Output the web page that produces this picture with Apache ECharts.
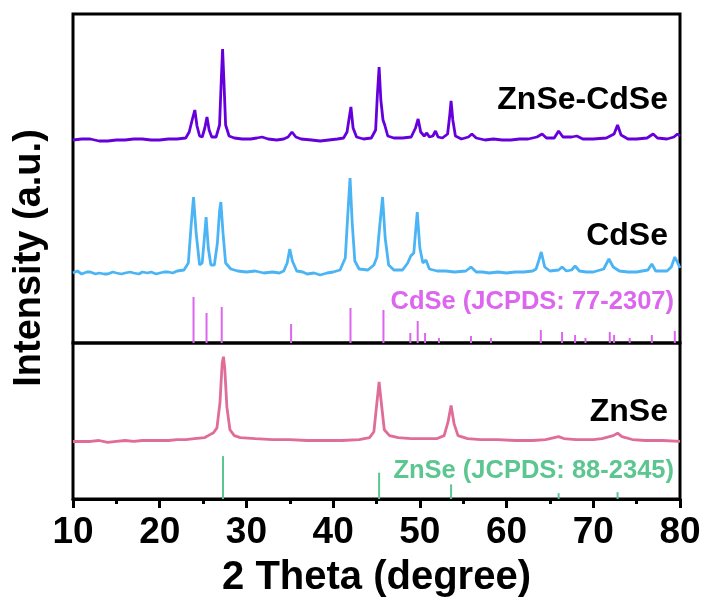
<!DOCTYPE html>
<html>
<head>
<meta charset="utf-8">
<script src="https://cdn.jsdelivr.net/npm/echarts@6/dist/echarts.min.js"></script>
<style>
  html, body { margin: 0; padding: 0; background: #fff; }
  #chart { width: 707px; height: 599px; }
</style>
</head>
<body>
<div id="chart"></div>
<script>
// ---------- DATA (2θ in degrees, intensity in arbitrary units) ----------
const xTickLabels = [10, 20, 30, 40, 50, 60, 70, 80];

// ZnSe-CdSe pattern (intensity above its own baseline)
const hybridPattern = [
  [10,0],[11,1],[12,1],[13,-1],[14,-1],[15,0],[16,0],[17,1],[18,1],[19,0],[20,0],[21,1],[22,1],[23.0,2],[23.4,8],[23.6,15],[23.8,22],[24.05,30],[24.3,14],[24.6,4],
  [24.9,3],[25.2,12],[25.45,23],[25.7,10],[26.0,3],[26.5,3],[26.9,15],[27.1,60],[27.25,91],[27.4,60],[27.6,15],[28.0,4],[28.6,2],
  [29.5,1],[30.5,1],[31.2,2],[31.8,3],[32.5,1],[33.5,0],[34.3,1],[34.8,3],[35.25,8],[35.7,3],[36.3,1],[37.5,0],[38.5,-1],[39.5,0],[40.5,1],[41.2,2],[41.6,8],[41.85,22],[42.05,33],[42.3,12],[42.7,3],[43.5,1],
  [44.4,2],[44.9,10],[45.1,45],[45.3,73],[45.5,40],[45.75,20],[45.95,15],[46.3,4],[47,2],[48,2],[49.0,3],[49.5,12],[49.8,21],[50.1,8],[50.5,4],
  [50.8,7],[51.1,3],[51.5,4],[51.8,9],[52.1,3],[52.6,2],[53.2,6],[53.45,25],[53.6,39],[53.8,20],[54.1,4],[54.8,1],[55.6,3],[56.0,6],[56.5,2],
  [57.5,0],[58.5,1],[59.5,0],[60.5,0],[61.5,1],[62.5,1],[63.5,3],[64.1,6],[64.6,2],[65.5,2],[66.0,9],[66.5,3],[67.5,3],[68.1,4],[68.8,1],[70,1],[71.5,2],
  [72.4,6],[72.8,15],[73.2,5],[74,1],[75,1],[76.2,2],[76.9,6],[77.4,2],[78.5,1],[79.3,3],[79.7,6],[80,4]
];

// CdSe pattern
const cdsePattern = [
  [10,0],[10.5,2],[11,-1],[11.6,1],[12,1],[12.6,-1],[13,0],[13.6,-1],[14,-1],[14.6,1],[15,0],[15.6,-1],[16,0],[16.6,1],[17,0],[17.6,-1],[18,1],[18.6,0],[19,1],[19.6,-1],[20,0],[20.5,1],[21,1],[21.5,0],[22,2],[22.8,3],
  [23.3,10],[23.6,45],[23.9,76],[24.2,40],[24.6,8],[24.9,10],[25.15,35],[25.35,56],[25.6,25],[25.9,8],[26.3,8],[26.65,30],[26.9,62],[27.05,71],[27.3,40],[27.6,10],[28.2,4],
  [29,2],[30,1],[31,2],[32,0],[33,1],[33.8,0],[34.3,2],[34.7,10],[35.0,24],[35.3,12],[35.8,2],[36.5,1],[37,-1],[37.8,0],[38.5,-2],[39.3,0],[40,1],[40.8,3],
  [41.4,15],[41.7,60],[41.95,95],[42.2,50],[42.5,12],[43,4],[44,3],[44.7,8],[45.05,16],[45.35,45],[45.7,76],[46.0,35],[46.4,8],[47,3],[48,3],
  [48.6,10],[48.95,17],[49.3,20],[49.7,61],[50.0,25],[50.35,10],[50.7,13],[51.1,4],[52,2],[53,2],[54,1],[55.3,2],[55.9,6],[56.5,1],
  [57.2,1],[58,0],[59,1],[60,0],[61,1],[62,1],[63.0,2],[63.4,4],[63.7,12],[64.0,21],[64.4,6],[65,2],[66.0,3],[66.4,6],[66.9,2],[67.5,3],[67.9,7],[68.4,2],
  [69.2,1],[70,1],[71.2,4],[71.8,14],[72.3,6],[73,2],[74,1],[75,1],[76.3,3],[76.75,9],[77.2,2],[78.5,2],[79.0,6],[79.4,16],[79.8,9],[80,5]
];

// ZnSe pattern
const znsePattern = [
  [10,0],[11,0],[12,0],[13,1],[14,-1],[15,0],[16,1],[17,0],[18,1],[19,1],[20,1],[21,1],[22,2],[23,2],[24,3],[25.2,4],[25.8,7],[26.2,9],[26.6,14],
  [26.95,40],[27.2,80],[27.35,87],[27.5,75],[27.75,35],[28.1,12],[28.6,6],[29.3,4],[31,3],[33,2],[35,2],[37,1],[39,1],[41,1],[43,2],
  [44.2,4],[44.7,10],[45.05,40],[45.3,61],[45.55,40],[45.9,12],[46.5,6],[47.5,4],[49,3],[50.5,3],[52,3],[52.8,6],[53.25,20],[53.6,37],[53.95,18],[54.4,6],
  [55.5,3],[57,2],[59,2],[61,1],[63,1],[64.5,2],[65.5,4],[66.0,5],[66.6,3],[68,2],[70,2],[71,3],[72.3,6],[72.8,8.5],[73.3,5],[74.5,2],[76,1],[78,1],[80,0]
];

// Vertical stacking offsets of the measured patterns (a.u.)
const hybridOffset = 203;
const cdseOffset = 70;
const znseOffset = 59;

// Reference stick patterns
const cdseRefPos = [23.9, 25.4, 27.15, 35.15, 42.0, 45.8, 48.9, 49.75, 50.6, 52.2, 55.9, 58.2, 63.95, 66.4, 67.9, 69.1, 71.9, 72.4, 74.2, 76.75, 79.4];
const cdseRefInt = [46, 30, 36, 19, 35, 33, 10, 22, 10, 5, 7, 5, 13, 11, 8, 5, 11, 8, 5, 8, 12];
const znseRefPos = [27.3, 45.3, 53.6, 66.0, 72.8];
const znseRefInt = [44, 27, 15, 6, 7];

const sampleNames = ['ZnSe-CdSe', 'CdSe', 'ZnSe'];
const refNames = ['CdSe (JCPDS: 77-2307)', 'ZnSe (JCPDS: 88-2345)'];

// ---------- STYLES ----------
const C_HYBRID = '#6500dc';
const C_CDSE = '#4ab4f4';
const C_ZNSE = '#e06c98';
const C_CDSE_REF = '#dc66ee';
const C_ZNSE_REF = '#5cc690';
const SANS = '"Liberation Sans", Arial, sans-serif';

const shift = (arr, off) => arr.map(p => [p[0], p[1] + off]);
const sticks = (pos, inten) => pos.map((x, i) => [x, inten[i]]);

function stickRenderer(color) {
  return function (params, api) {
    const x = api.value(0), h = api.value(1);
    const p0 = api.coord([x, 0]);
    const p1 = api.coord([x, h]);
    return {
      type: 'line',
      shape: { x1: p0[0], y1: p0[1], x2: p1[0], y2: p1[1] },
      style: { stroke: color, lineWidth: 2 }
    };
  };
}

const chart = echarts.init(document.getElementById('chart'), null, { renderer: 'canvas' });

const option = {
  animation: false,
  backgroundColor: '#fff',
  grid: [
    { left: 73, right: 27, top: 14, height: 329, show: true, borderColor: '#000', borderWidth: 3, backgroundColor: 'transparent' },
    { left: 73, right: 27, top: 343, height: 160, show: true, borderColor: '#000', borderWidth: 3, backgroundColor: 'transparent' }
  ],
  xAxis: [
    { type: 'value', gridIndex: 0, min: 10, max: 80, interval: 10, show: false },
    {
      type: 'value', gridIndex: 1, min: 10, max: 80, interval: 10,
      axisLine: { show: true, lineStyle: { color: '#000', width: 3 } },
      axisTick: { show: true, inside: false, length: 9, lineStyle: { color: '#000', width: 3 } },
      minorTick: { show: true, splitNumber: 2, length: 5, lineStyle: { color: '#000', width: 3 } },
      splitLine: { show: false },
      axisLabel: {
        show: true, margin: 15, color: '#000', fontSize: 37, fontWeight: 'bold', fontFamily: SANS,
        formatter: v => (xTickLabels.indexOf(v) >= 0 ? String(v) : '')
      },
      name: '2 Theta (degree)', nameLocation: 'middle', nameGap: 59,
      nameTextStyle: { color: '#000', fontSize: 40, fontWeight: 'bold', fontFamily: SANS }
    }
  ],
  yAxis: [
    { type: 'value', gridIndex: 0, min: 0, max: 329, show: false },
    { type: 'value', gridIndex: 1, min: 0, max: 160, show: false }
  ],
  series: [
    { name: sampleNames[0], type: 'line', xAxisIndex: 0, yAxisIndex: 0, data: shift(hybridPattern, hybridOffset),
      showSymbol: false, lineStyle: { color: C_HYBRID, width: 2.8 }, clip: true },
    { name: sampleNames[1], type: 'line', xAxisIndex: 0, yAxisIndex: 0, data: shift(cdsePattern, cdseOffset),
      showSymbol: false, lineStyle: { color: C_CDSE, width: 2.8 }, clip: true },
    { name: refNames[0], type: 'custom', xAxisIndex: 0, yAxisIndex: 0, data: sticks(cdseRefPos, cdseRefInt),
      renderItem: stickRenderer(C_CDSE_REF), clip: true },
    { name: sampleNames[2], type: 'line', xAxisIndex: 1, yAxisIndex: 1, data: shift(znsePattern, znseOffset),
      showSymbol: false, lineStyle: { color: C_ZNSE, width: 2.8 }, clip: true },
    { name: refNames[1], type: 'custom', xAxisIndex: 1, yAxisIndex: 1, data: sticks(znseRefPos, znseRefInt),
      renderItem: stickRenderer(C_ZNSE_REF), clip: true }
  ],
  graphic: [
    { type: 'text', rotation: Math.PI / 2, x: 30, y: 258,
      style: { text: 'Intensity (a.u.)', fill: '#000', font: 'bold 38px ' + SANS, textAlign: 'center', textVerticalAlign: 'middle' } },
    { type: 'text', x: 668, y: 100,
      style: { text: sampleNames[0], fill: '#000', font: 'bold 32px ' + SANS, textAlign: 'right', textVerticalAlign: 'middle' } },
    { type: 'text', x: 668, y: 236,
      style: { text: sampleNames[1], fill: '#000', font: 'bold 32px ' + SANS, textAlign: 'right', textVerticalAlign: 'middle' } },
    { type: 'text', x: 674, y: 302,
      style: { text: refNames[0], fill: C_CDSE_REF, font: 'bold 25.5px ' + SANS, textAlign: 'right', textVerticalAlign: 'middle' } },
    { type: 'text', x: 668, y: 412,
      style: { text: sampleNames[2], fill: '#000', font: 'bold 32px ' + SANS, textAlign: 'right', textVerticalAlign: 'middle' } },
    { type: 'text', x: 674, y: 471,
      style: { text: refNames[1], fill: C_ZNSE_REF, font: 'bold 25.5px ' + SANS, textAlign: 'right', textVerticalAlign: 'middle' } }
  ]
};

chart.setOption(option);
</script>
</body>
</html>
